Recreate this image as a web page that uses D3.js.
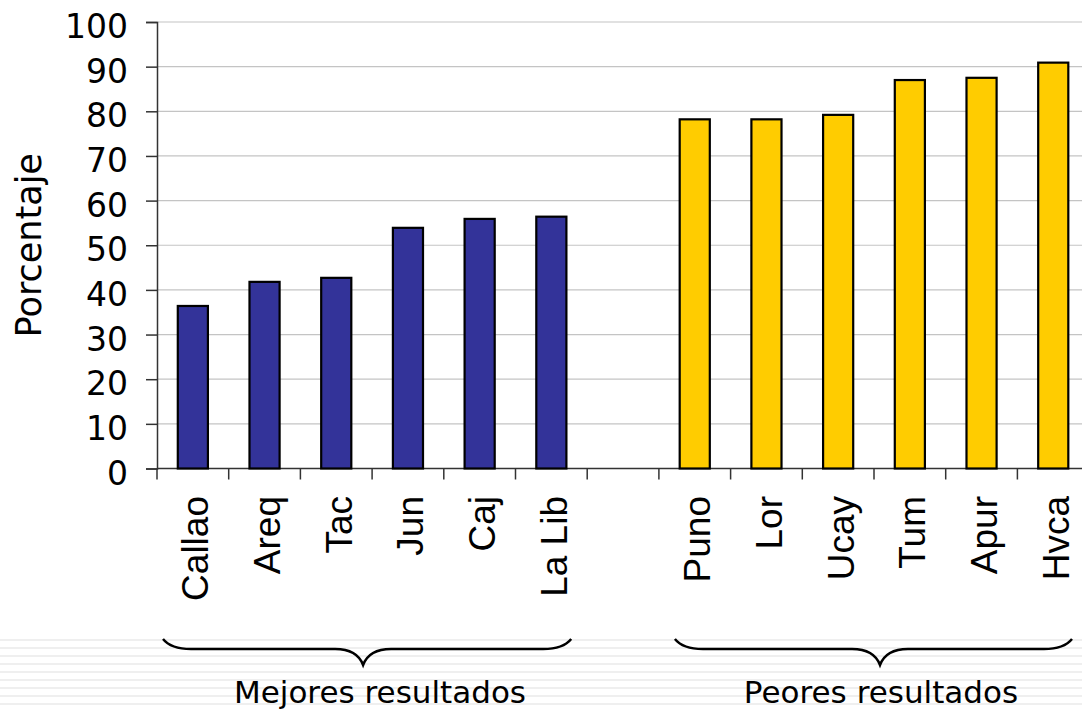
<!DOCTYPE html>
<html>
<head>
<meta charset="utf-8">
<script src="https://cdn.jsdelivr.net/npm/d3@7"></script>
<style>
  body { margin: 0; background: #fff; }
  svg { display: block; }
</style>
</head>
<body>
<div class="graph"></div>
<script>
// values (percent)
var categories = ["Callao", "Areq", "Tac", "Jun", "Caj", "La Lib", "gap", "Puno", "Lor", "Ucay", "Tum", "Apur", "Hvca"];
var values = [36.4, 41.8, 42.7, 53.9, 55.9, 56.4, null, 78.2, 78.2, 79.2, 87.0, 87.5, 90.9];
var groupNames = ["Mejores resultados", "Peores resultados"];
var groupMembers = [
    ["Callao", "Areq", "Tac", "Jun", "Caj", "La Lib"],
    ["Puno", "Lor", "Ucay", "Tum", "Apur", "Hvca"]
];
var groupColors = ["#333399", "#FFCC00"];
var yTicks = [0, 10, 20, 30, 40, 50, 60, 70, 80, 90, 100];
var yTitle = "Porcentaje";

var width = 1082, height = 712;
var margin = { top: 22, left: 157, bottom: 468.5 };

var svg = d3.select(".graph").append("svg")
    .attr("width", width)
    .attr("height", height);

// faint striped band at the bottom
svg.append("g").selectAll("line")
    .data(d3.range(640, height, 8))
    .enter().append("line")
    .attr("x1", 0).attr("x2", width)
    .attr("y1", (d) => d).attr("y2", (d) => d)
    .attr("stroke", "#efefef")
    .attr("stroke-width", 2);

var x = d3.scaleBand().domain(categories).range([margin.left, margin.left + 71.7 * categories.length]);
var y = d3.scaleLinear().domain([0, 100]).range([margin.bottom, margin.top]);

// gridlines
svg.append("g").selectAll("line")
    .data(yTicks.filter((d) => d > 0))
    .enter().append("line")
    .attr("x1", margin.left).attr("x2", width)
    .attr("y1", (d) => y(d)).attr("y2", (d) => y(d))
    .attr("stroke", "#c4c4c4")
    .attr("stroke-width", 1.2);

// y axis
var yAxis = svg.append("g")
    .attr("transform", `translate(${margin.left},0)`)
    .call(d3.axisLeft(y).tickValues(yTicks).tickSize(11).tickPadding(18));
yAxis.selectAll("path, line").attr("stroke", "#333").attr("stroke-width", 1.5);
yAxis.selectAll("text")
    .attr("font-family", "DejaVu Sans, Verdana, sans-serif")
    .attr("font-size", 33)
    .attr("fill", "#000")
    .attr("dy", "0.47em");

svg.append("text")
    .attr("transform", `translate(41,${(margin.top + margin.bottom) / 2}) rotate(-90)`)
    .attr("text-anchor", "middle")
    .attr("font-family", "DejaVu Sans, Verdana, sans-serif")
    .attr("font-size", 35)
    .text(yTitle);

// x axis: line + ticks at band edges
var xAxis = svg.append("g");
xAxis.append("line")
    .attr("x1", margin.left).attr("x2", width)
    .attr("y1", y(0)).attr("y2", y(0))
    .attr("stroke", "#333").attr("stroke-width", 1.5);
xAxis.selectAll(".tk")
    .data(categories)
    .enter().append("line")
    .attr("class", "tk")
    .attr("x1", (d) => x(d)).attr("x2", (d) => x(d))
    .attr("y1", y(0)).attr("y2", y(0) + 11)
    .attr("stroke", "#333").attr("stroke-width", 1.5);
xAxis.selectAll("text")
    .data(categories.filter((d) => d !== "gap"))
    .enter().append("text")
    .attr("transform", (d) => `translate(${x(d) + x.bandwidth() / 2},496) rotate(-90)`)
    .attr("text-anchor", "end")
    .attr("dy", 15.5)
    .attr("font-family", "Liberation Sans, Arial, sans-serif")
    .attr("font-size", 37)
    .text((d) => d);

// bars
var barW = x.bandwidth() * 0.42;
function colorOf(c) {
    return groupMembers[0].indexOf(c) >= 0 ? groupColors[0] : groupColors[1];
}
svg.append("g").selectAll("rect")
    .data(categories.map((c, i) => ({ c: c, v: values[i] })).filter((d) => d.v !== null))
    .enter().append("rect")
    .attr("x", (d) => x(d.c) + (x.bandwidth() - barW) / 2)
    .attr("width", barW)
    .attr("y", (d) => y(d.v))
    .attr("height", (d) => y(0) - y(d.v))
    .attr("fill", (d) => colorOf(d.c))
    .attr("stroke", "#000")
    .attr("stroke-width", 2.2);

// group braces + labels
var braceTop = 639, braceMid = 649, braceTip = 665;
groupMembers.forEach((members, i) => {
    var x0 = x(members[0]) + 6;
    var x1 = x(members[members.length - 1]) + x.bandwidth() - 16;
    var xm = (x0 + x1) / 2 - 4;
    if (i === 1) { x0 = x(members[0]) + 16; x1 = width - 10; xm = 880; }
    var r = 28;
    var p = d3.path();
    p.moveTo(x0, braceTop);
    p.quadraticCurveTo(x0 + 8, braceMid, x0 + r, braceMid);
    p.lineTo(xm - r, braceMid);
    p.quadraticCurveTo(xm - 6, braceMid, xm, braceTip);
    p.quadraticCurveTo(xm + 6, braceMid, xm + r, braceMid);
    p.lineTo(x1 - r, braceMid);
    p.quadraticCurveTo(x1 - 8, braceMid, x1, braceTop);
    svg.append("path")
        .attr("d", p.toString())
        .attr("fill", "none")
        .attr("stroke", "#000")
        .attr("stroke-width", 2.5);
    svg.append("text")
        .attr("x", i === 0 ? 380 : 881)
        .attr("y", 703)
        .attr("text-anchor", "middle")
        .attr("font-family", "DejaVu Sans, Verdana, sans-serif")
        .attr("font-size", 31)
        .text(groupNames[i]);
});
</script>
</body>
</html>
